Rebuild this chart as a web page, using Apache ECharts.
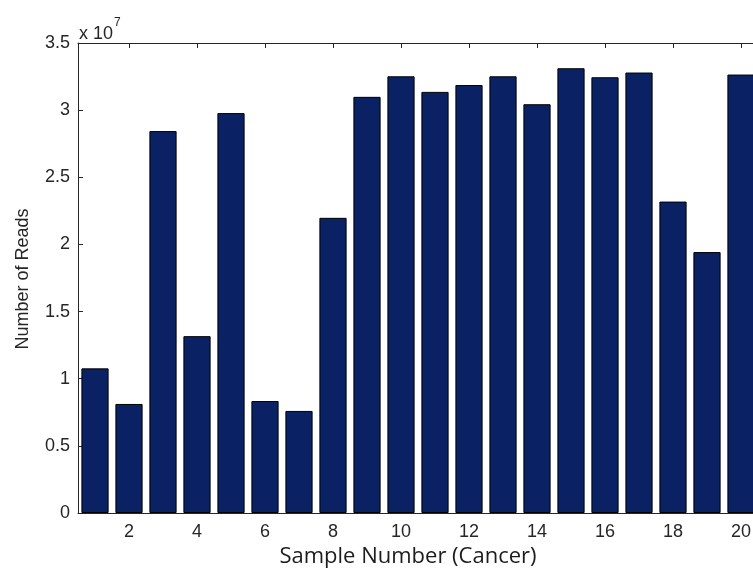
<!DOCTYPE html>
<html>
<head>
<meta charset="utf-8">
<script src="https://cdn.jsdelivr.net/npm/echarts@6/dist/echarts.min.js"></script>
<style>
  html, body { margin: 0; padding: 0; background: #fff; overflow: hidden; }
  #chart { width: 760px; height: 575px; }
</style>
</head>
<body>
<div id="chart"></div>
<script>
// Sequencing depth per cancer sample
const samples = ['1','2','3','4','5','6','7','8','9','10','11','12','13','14','15','16','17','18','19','20'];
const reads = [
  10770000, 8120000, 28440000, 13170000, 29780000, 8340000, 7600000, 21980000, 30990000, 32520000,
  31360000, 31870000, 32520000, 30440000, 33120000, 32450000, 32800000, 23190000, 19430000, 32650000
];
const xTickValues = [2, 4, 6, 8, 10, 12, 14, 16, 18, 20];
const yTicks = [0, 5000000, 10000000, 15000000, 20000000, 25000000, 30000000, 35000000];
const xTitle = 'Sample Number (Cancer)';
const yTitle = 'Number of Reads';

const axisColor = '#262626';
const tickFont = { fontFamily: 'Liberation Sans, Arial, sans-serif', fontSize: 18, color: '#262626' };
const everyOther = (i) => i % 2 === 1;

const chart = echarts.init(document.getElementById('chart'), null, { renderer: 'canvas' });
chart.setOption({
  animation: false,
  backgroundColor: '#fff',
  grid: { left: 78, top: 43, right: 2, bottom: 62, containLabel: false },
  xAxis: [
    {
      type: 'category', data: samples, position: 'bottom', boundaryGap: true,
      axisLine: { onZero: false, lineStyle: { color: axisColor, width: 1 } },
      axisTick: { show: true, inside: true, length: 5, alignWithLabel: true, interval: everyOther, lineStyle: { color: axisColor } },
      axisLabel: Object.assign({ interval: everyOther, margin: 10 }, tickFont),
      splitLine: { show: false }
    },
    {
      // top frame edge: same sample range as a continuous scale, ticks only
      type: 'value', position: 'top', min: 0.5, max: samples.length + 0.5, z: 5,
      axisLine: { show: true, onZero: false, lineStyle: { color: axisColor, width: 1 } },
      axisTick: { show: true, inside: true, length: 5, customValues: xTickValues, lineStyle: { color: axisColor, width: 1 } },
      axisLabel: { show: false, customValues: xTickValues },
      splitLine: { show: false }
    }
  ],
  yAxis: {
    type: 'value', min: yTicks[0], max: yTicks[yTicks.length - 1], interval: yTicks[1] - yTicks[0],
    axisLine: { show: true, onZero: false, lineStyle: { color: axisColor, width: 1 } },
    axisTick: { show: true, inside: true, length: 5, lineStyle: { color: axisColor } },
    axisLabel: Object.assign({ margin: 8, formatter: (v) => String(v / 1e7) }, tickFont),
    splitLine: { show: false }
  },
  series: [
    {
      type: 'bar', data: reads, xAxisIndex: 0, barWidth: '80%',
      itemStyle: { color: '#0a2264', borderColor: '#000', borderWidth: 1 }
    }
  ],
  graphic: [
    {
      type: 'text', left: 79, top: 17,
      style: {
        text: '{b|x 10}{s|7}',
        rich: {
          b: { fontFamily: 'Liberation Sans, Arial, sans-serif', fontSize: 18, fill: '#262626', verticalAlign: 'bottom', lineHeight: 20 },
          s: { fontFamily: 'Liberation Sans, Arial, sans-serif', fontSize: 12, fill: '#262626', verticalAlign: 'top', lineHeight: 26, padding: [0, 0, 14, 1] }
        }
      }
    },
    {
      type: 'text', x: 408, y: 557,
      style: {
        text: xTitle, fontFamily: 'Open Sans, Noto Sans, sans-serif', fontSize: 22, fill: '#1c1c1c',
        align: 'center', verticalAlign: 'middle'
      }
    },
    {
      type: 'text', x: 23, y: 279, rotation: Math.PI / 2,
      style: {
        text: yTitle, fontFamily: 'Liberation Sans, Arial, sans-serif', fontSize: 18, fill: '#262626',
        align: 'center', verticalAlign: 'middle'
      }
    }
  ]
});
</script>
</body>
</html>
